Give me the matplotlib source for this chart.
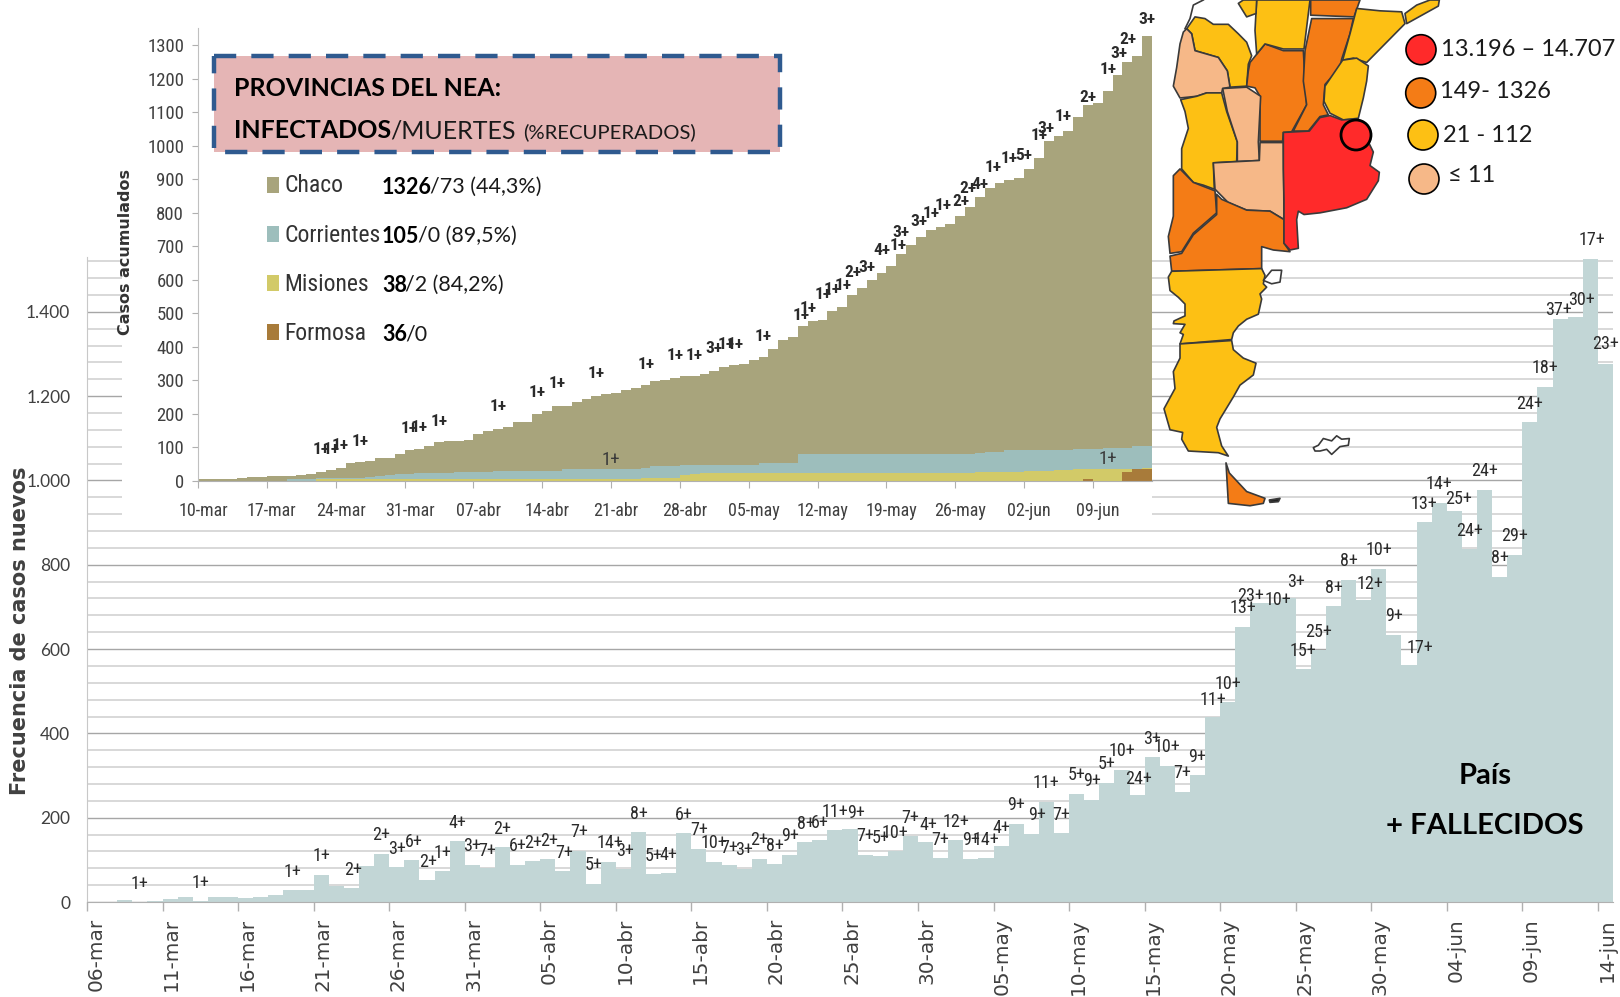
import matplotlib
matplotlib.use('Agg')
import matplotlib.pyplot as plt
import numpy as np
from matplotlib.patches import Circle, Polygon, Rectangle
from matplotlib.ticker import FixedLocator, FuncFormatter, MultipleLocator

# ==========================================
# Data
# ==========================================
# daily new cases, 06-mar to 14-jun
main_cases = [
    0, 0, 4, 1, 2, 6, 11, 2, 11, 11, 9, 13, 17, 28, 28, 65, 39, 33, 85, 115,
    82, 99, 53, 73, 144, 87, 80, 130, 87, 97, 101, 73, 122, 43, 96, 79, 165, 66, 68, 164,
    126, 96, 87, 79, 101, 90, 112, 142, 146, 170, 172, 112, 109, 122, 157, 142, 104, 146, 102, 104,
    132, 186, 161, 238, 164, 257, 243, 283, 313, 253, 343, 323, 261, 302, 438, 474, 652, 709, 709, 720,
    552, 597, 702, 765, 716, 791, 634, 562, 901, 946, 927, 838, 978, 772, 824, 1139, 1221, 1382, 1387, 1525,
    1277,
]
main_tick_labels = [
    '06-mar', '11-mar', '16-mar', '21-mar', '26-mar', '31-mar', '05-abr', '10-abr', '15-abr', '20-abr', '25-abr',
    '30-abr', '05-may', '10-may', '15-may', '20-may', '25-may', '30-may', '04-jun', '09-jun', '14-jun',
]
# deaths labels above the bars: day position, height, text
death_days = [
    3.5, 7.5, 13.6, 15.5, 17.6, 19.5, 20.5, 21.6, 22.6, 23.5, 24.5, 25.5, 26.5, 27.5, 28.5, 29.5, 30.6, 31.6,
    32.6, 33.5, 34.6, 35.6, 36.5, 37.5, 38.5, 39.5, 40.5, 41.5, 42.5, 43.5, 44.5, 45.5, 46.5, 47.6, 48.5, 49.5,
    50.9, 51.5, 52.5, 53.5, 54.5, 55.7, 56.5, 57.5, 58.5, 59.5, 60.5, 61.5, 62.9, 63.5, 64.5, 65.5, 66.5, 67.5,
    68.5, 69.6, 70.5, 71.5, 72.5, 73.5, 74.5, 75.5, 76.5, 77.0, 78.8, 80.0, 80.5, 81.5, 82.5, 83.5, 84.9, 85.5,
    86.5, 88.2, 88.5, 89.5, 90.8, 91.5, 92.5, 93.5, 94.5, 95.5, 96.5, 97.4, 98.9, 99.6, 100.5,
]
death_heights = [
    43, 45, 71, 108, 75, 160, 126, 142, 96, 116, 187, 132, 121, 174, 132, 141, 144, 117,
    166, 87, 140, 121, 209, 109, 111, 207, 170, 141, 129, 123, 146, 133, 156, 186, 188, 214,
    212, 156, 153, 164, 200, 182, 148, 190, 146, 146, 176, 231, 206, 283, 206, 301, 287, 328,
    358, 292, 387, 368, 306, 344, 479, 517, 697, 726, 717, 760, 596, 640, 746, 810, 754, 835,
    679, 602, 945, 991, 957, 881, 1023, 817, 868, 1182, 1266, 1405, 1428, 1571, 1323,
]
death_texts = [
    '1+', '1+', '1+', '1+', '2+', '2+', '3+', '6+', '2+', '1+', '4+', '3+', '7+', '2+', '6+', '2+', '2+', '7+',
    '7+', '5+', '14+', '3+', '8+', '5+', '4+', '6+', '7+', '10+', '7+', '3+', '2+', '8+', '9+', '8+', '6+', '11+',
    '9+', '7+', '5+', '10+', '7+', '4+', '7+', '12+', '9+', '14+', '4+', '9+', '9+', '11+', '7+', '5+', '9+', '5+',
    '10+', '24+', '3+', '10+', '7+', '9+', '11+', '10+', '13+', '23+', '10+', '3+', '15+', '25+', '8+', '8+', '12+', '10+',
    '9+', '17+', '13+', '14+', '25+', '24+', '24+', '8+', '29+', '24+', '18+', '37+', '30+', '17+', '23+',
]

# cumulative cases per province, 10-mar to 14-jun
chaco = [
    4, 4, 4, 4, 7, 11, 11, 14, 14, 14, 18, 21, 26, 33, 38, 52, 55, 60, 67, 67,
    81, 92, 95, 105, 115, 118, 118, 121, 138, 148, 154, 160, 176, 176, 198, 208, 224, 224, 236, 244,
    252, 258, 262, 272, 278, 285, 298, 302, 307, 311, 311, 318, 326, 339, 345, 348, 360, 369, 394, 420,
    429, 463, 478, 481, 507, 517, 554, 575, 598, 620, 642, 677, 703, 728, 748, 756, 766, 789, 817, 847,
    873, 889, 897, 903, 930, 963, 1013, 1029, 1045, 1084, 1122, 1126, 1164, 1211, 1251, 1268, 1326,
]
corrientes = [
    0, 0, 0, 0, 0, 0, 0, 0, 0, 6, 6, 6, 8, 8, 8, 8, 8, 11, 15, 18,
    21, 21, 23, 23, 24, 24, 26, 26, 26, 26, 29, 29, 29, 29, 29, 29, 30, 34, 34, 34,
    34, 36, 36, 36, 36, 38, 44, 44, 44, 48, 48, 48, 48, 48, 48, 48, 48, 54, 54, 54,
    54, 79, 79, 79, 79, 79, 79, 79, 79, 79, 79, 79, 79, 79, 79, 79, 79, 81, 81, 84,
    87, 87, 93, 93, 93, 93, 93, 93, 93, 95, 95, 95, 99, 99, 99, 103, 105,
]
misiones = [
    0, 0, 0, 0, 0, 0, 0, 0, 0, 0, 0, 0, 4, 4, 4, 4, 4, 4, 4, 4,
    4, 4, 4, 4, 4, 4, 4, 4, 4, 4, 4, 4, 4, 4, 4, 4, 4, 4, 4, 4,
    4, 4, 4, 4, 4, 7, 7, 7, 7, 16, 19, 23, 23, 23, 23, 23, 23, 23, 23, 23,
    23, 23, 23, 23, 23, 23, 23, 23, 23, 23, 23, 23, 23, 23, 23, 23, 23, 23, 23, 26,
    26, 26, 26, 26, 29, 29, 29, 32, 32, 35, 35, 35, 35, 35, 35, 36, 38,
]
formosa = [
    0, 0, 0, 0, 0, 0, 0, 0, 0, 0, 0, 0, 0, 0, 0, 0, 0, 0, 0, 0,
    0, 0, 0, 0, 0, 0, 0, 0, 0, 0, 0, 0, 0, 0, 0, 0, 0, 0, 0, 0,
    0, 0, 0, 0, 0, 0, 0, 0, 0, 0, 0, 0, 0, 0, 0, 0, 0, 0, 0, 0,
    0, 0, 0, 0, 0, 0, 0, 0, 0, 0, 0, 0, 0, 0, 0, 0, 0, 0, 0, 0,
    0, 0, 0, 0, 0, 0, 0, 0, 0, 0, 5, 0, 0, 0, 27, 35, 36,
]
nea_tick_labels = [
    '10-mar', '17-mar', '24-mar', '31-mar', '07-abr', '14-abr', '21-abr',
    '28-abr', '05-may', '12-may', '19-may', '26-may', '02-jun', '09-jun',
]
nea_death_days = [
    12.5, 13.5, 14.5, 16.5, 21.5, 22.5, 24.5, 30.5, 34.5, 36.5, 40.5, 45.6, 48.5, 50.5, 52.5, 53.7, 54.6, 57.5,
    61.3, 62.0, 63.6, 64.5, 65.6, 66.6, 68.0, 69.5, 71.2, 71.5, 73.3, 74.5, 75.8, 77.6, 78.3, 79.5, 80.9, 82.5,
    84.0, 85.5, 86.2, 88.0, 90.5, 92.5, 93.6, 94.6, 96.5,
]
nea_death_heights = [
    92, 94, 104, 118, 156, 158, 178, 221, 262, 290, 320, 348, 374, 374, 394, 406, 406, 431,
    492, 515, 557, 570, 582, 622, 635, 686, 703, 741, 773, 798, 820, 832, 872, 884, 935, 961,
    970, 1029, 1050, 1086, 1145, 1227, 1275, 1316, 1377,
]
nea_death_texts = [
    '1+', '1+', '1+', '1+', '1+', '1+', '1+', '1+', '1+', '1+', '1+', '1+', '1+', '1+', '3+', '1+', '1+', '1+',
    '1+', '1+', '1+', '1+', '1+', '2+', '3+', '4+', '1+', '3+', '3+', '1+', '1+', '2+', '2+', '4+', '1+', '1+',
    '5+', '1+', '3+', '1+', '2+', '1+', '3+', '2+', '3+',
]
# the two labels inside the teal band
low_death_days = [42.0, 92.5]
low_death_heights = [61, 65]

province_names = ['Chaco', 'Corrientes', 'Misiones', 'Formosa']
province_bold = ['1326', '105', '38', '36']
province_rest = ['/73 (44,3%)', '/0 (89,5%)', '/2 (84,2%)', '/0']
province_colors = ['#A8A47C', '#9DBEBC', '#D2CA68', '#A87B3A']

legend_texts = ['13.196 – 14.707', '149- 1326', '21 - 112', '≤ 11']

RED, ORANGE, YELLOW, PEACH = '#FF2A2A', '#F47C16', '#FDC014', '#F6B888'
legend_colors = [RED, ORANGE, YELLOW, PEACH]

# rough province outlines, traced in pixels of a 3x crop of the map
map_shapes = [
    (YELLOW, [(110, 85), (135, 50), (165, 55), (190, 72), (235, 72), (265, 100), (290, 125), (305, 165), (295, 190), (290, 255), (240, 258), (232, 210), (205, 170), (135, 150), (125, 100)]),
    (PEACH, [(110, 85), (125, 100), (135, 150), (205, 170), (232, 210), (240, 258), (218, 262), (215, 275), (170, 275), (140, 285), (90, 290), (70, 255), (80, 200), (90, 130), (100, 95)]),
    (ORANGE, [(300, 185), (345, 130), (400, 150), (460, 150), (465, 240), (470, 310), (425, 390), (400, 392), (398, 418), (330, 418), (330, 285), (315, 260), (290, 255), (295, 210)]),
    (YELLOW, [(320, 0), (480, 0), (462, 145), (400, 145), (345, 130), (320, 160), (315, 90)]),
    (YELLOW, [(265, 10), (280, 0), (320, 0), (318, 40), (290, 50)]),
    (ORANGE, [(485, 55), (610, 55), (600, 100), (575, 175), (570, 200), (525, 250), (520, 310), (535, 340), (510, 345), (475, 388), (430, 388), (470, 310), (460, 240), (465, 150)]),
    (ORANGE, [(482, 0), (630, 0), (612, 50), (482, 45)]),
    (YELLOW, [(620, 25), (690, 32), (755, 35), (765, 70), (720, 115), (680, 155), (650, 185), (610, 172), (578, 178), (600, 100)]),
    (YELLOW, [(765, 40), (800, 15), (840, 0), (868, 0), (865, 18), (770, 70)]),
    (YELLOW, [(578, 178), (620, 172), (655, 195), (650, 240), (640, 290), (625, 350), (580, 355), (540, 335), (522, 300), (525, 255)]),
    (YELLOW, [(92, 295), (140, 285), (170, 275), (215, 275), (230, 330), (262, 420), (260, 478), (190, 482), (193, 560), (160, 548), (130, 540), (95, 500), (95, 440), (115, 380), (105, 330)]),
    (PEACH, [(218, 262), (290, 258), (332, 285), (325, 420), (328, 475), (262, 478), (262, 420), (232, 330)]),
    (PEACH, [(190, 482), (328, 475), (330, 422), (400, 422), (402, 650), (360, 625), (290, 622), (235, 600), (215, 580), (195, 560)]),
    (ORANGE, [(90, 500), (130, 540), (195, 565), (200, 630), (130, 690), (95, 745), (60, 750), (55, 700), (70, 640), (70, 520)]),
    (ORANGE, [(200, 575), (215, 590), (290, 622), (360, 625), (402, 650), (402, 720), (420, 745), (370, 740), (335, 730), (335, 795), (65, 803), (60, 758), (95, 750), (130, 695), (200, 635)]),
    (RED, [(400, 392), (478, 388), (510, 348), (540, 342), (575, 355), (625, 352), (645, 400), (670, 450), (660, 490), (688, 510), (685, 535), (650, 590), (590, 615), (510, 630), (462, 635), (445, 625), (440, 650), (445, 735), (420, 740), (402, 720), (402, 590), (400, 500)]),
    (YELLOW, [(65, 803), (335, 795), (345, 815), (340, 840), (350, 850), (330, 870), (335, 885), (325, 930), (290, 945), (265, 965), (250, 985), (245, 1005), (90, 1018), (100, 990), (90, 985), (105, 960), (70, 958), (72, 950), (105, 935), (105, 900), (85, 880), (60, 860), (55, 820)]),
    (YELLOW, [(90, 1018), (245, 1008), (250, 1035), (280, 1060), (318, 1075), (310, 1110), (270, 1140), (250, 1175), (210, 1240), (200, 1265), (215, 1320), (235, 1350), (205, 1340), (115, 1335), (95, 1300), (98, 1280), (60, 1272), (42, 1210), (75, 1150), (70, 1100), (90, 1060)]),
    (ORANGE, [(228, 1370), (238, 1400), (290, 1455), (345, 1475), (340, 1490), (300, 1497), (235, 1490)]),
    ('white', [(490, 1325), (505, 1318), (520, 1298), (545, 1305), (560, 1290), (575, 1300), (598, 1298), (595, 1318), (570, 1322), (545, 1345), (530, 1330), (510, 1335), (495, 1335)]),
    ('white', [(340, 830), (365, 800), (395, 800), (390, 835), (365, 840)]),
    ('#222222', [(358, 1480), (390, 1475), (385, 1485), (360, 1487)]),
]
# border without fill at the very top left of the map
map_border = [(105, 85), (120, 55), (130, 15), (160, 0)]

NARROW = ['Roboto Condensed', 'Archivo Narrow', 'PT Sans Narrow', 'Liberation Sans']
W, H = 1620, 997


def axes_box(left, top, right, bottom):
    # figure fraction box from pixel edges
    return [left / W, (H - bottom) / H, (right - left) / W, (bottom - top) / H]


def thousands(v, pos):
    return f'{int(v):,}'.replace(',', '.')


fig = plt.figure(figsize=(16.2, 9.97), dpi=100)

# --- Main chart: new cases per day ---
ax = fig.add_axes(axes_box(87, 257, 1613, 902), zorder=1)
ax.stairs(main_cases, np.arange(len(main_cases) + 1), fill=True, color='#C2D6D6', linewidth=0, zorder=2)
for d, h, t in zip(death_days, death_heights, death_texts):
    ax.text(d, h, t, ha='center', va='center', fontsize=13, family=NARROW, color='#2B2B2B', zorder=3, clip_on=False)

ax.set_xlim(0, 101)
ax.set_ylim(0, 1530)
ax.set_xticks(np.arange(0, 101, 5))
ax.set_xticklabels([])
ax.set_xticks(np.arange(0, 101, 5) + 0.6, minor=True)
ax.set_xticklabels(main_tick_labels, minor=True, rotation=90, fontsize=14.4, color='#404040')
ax.tick_params(axis='x', which='major', length=6.5, width=1, color='#B0B0B0')
ax.tick_params(axis='x', which='minor', length=0, pad=11.5)

ax.yaxis.set_major_locator(MultipleLocator(200))
ax.yaxis.set_major_formatter(FuncFormatter(thousands))
ax.yaxis.set_minor_locator(FixedLocator(np.arange(0, 1521, 40)))
ax.tick_params(axis='y', which='both', length=0, pad=12, labelsize=12.5, labelcolor='#404040')
for lab in ax.get_yticklabels():
    lab.set_family('Lato')
ax.grid(axis='y', which='minor', color='#D6D6D6', linewidth=1.3)
ax.grid(axis='y', which='major', color='#A6A6A6', linewidth=1.0)
ax.set_axisbelow(True)
for side in ['top', 'right']:
    ax.spines[side].set_visible(False)
ax.spines['left'].set_color('#C8C8C8')
ax.spines['bottom'].set_color('#B0B0B0')

# white sheet under the inset chart hides the grid behind it
sheet = fig.add_axes([0, 0, 1, 1], zorder=2)
sheet.set_xlim(0, W)
sheet.set_ylim(H, 0)
sheet.axis('off')
sheet.add_patch(Rectangle((122, 0), 1152 - 122, 522, color='white', linewidth=0))

# --- Inset chart: accumulated cases in NEA provinces ---
nea = fig.add_axes(axes_box(198, 27.7, 1152, 480.7), zorder=3)
nea.patch.set_alpha(0)
edges = np.arange(len(chaco) + 1)
for vals, col in zip([chaco, corrientes, misiones, formosa], province_colors):
    nea.stairs(vals, edges, fill=True, color=col, linewidth=0)
for d, h, t in zip(nea_death_days, nea_death_heights, nea_death_texts):
    nea.text(d, h, t, ha='center', va='center', fontsize=12.5, family=NARROW, weight='bold', color='#2B2B2B', clip_on=False)
for d, h in zip(low_death_days, low_death_heights):
    nea.text(d, h, '1+', ha='center', va='center', fontsize=13.5, family=NARROW, color='#3A3A3A')

nea.set_xlim(0, 97)
nea.set_ylim(0, 1352)
nea.set_xticks(np.arange(0, 97, 7))
nea.set_xticklabels([])
nea.set_xticks(np.arange(0, 97, 7) + 0.5, minor=True)
nea.set_xticklabels(nea_tick_labels, minor=True, fontsize=13, family=NARROW, color='#404040')
nea.tick_params(axis='x', which='major', length=5, color='#B0B0B0')
nea.tick_params(axis='x', which='minor', length=0, pad=15)
nea.set_yticks(np.arange(0, 1301, 100))
nea.tick_params(axis='y', length=4, color='#B0B0B0', pad=6, labelsize=13.5, labelcolor='#404040')
for lab in nea.get_yticklabels():
    lab.set_family(NARROW)
for side in ['top', 'right']:
    nea.spines[side].set_visible(False)
nea.spines['left'].set_color('#C0C0C0')
nea.spines['bottom'].set_color('#B0B0B0')

# --- Everything placed by pixel: box, province legend, map ---
ov = fig.add_axes([0, 0, 1, 1], zorder=4)
ov.set_xlim(0, W)
ov.set_ylim(H, 0)
ov.axis('off')

ov.text(20.5, 631, 'Frecuencia de casos nuevos', rotation=90, ha='center', va='center',
        fontsize=15, weight='bold', color='#404040')
ov.text(126, 252, 'Casos acumulados', rotation=90, ha='center', va='center',
        fontsize=11.5, weight='bold', color='#333333')

ov.add_patch(Rectangle((214, 56), 566, 96, facecolor='#E5B5B5', edgecolor='#2F5A8F', linewidth=3.2,
                       linestyle=(0, (5, 3.4))))
ov.text(234, 89, 'PROVINCIAS DEL NEA:', family='Lato', weight='bold', fontsize=18, va='center', color='black')
ov.text(234, 131, 'INFECTADOS', family='Lato', weight='bold', fontsize=18, va='center', color='black')
ov.text(390, 131, '/MUERTES', family='Lato', fontsize=18, va='center', color='#1A1A1A')
ov.text(523, 132, '(%RECUPERADOS)', family='Lato', fontsize=14.6, va='center', color='#1A1A1A')

bold_ends = [430, 418, 405, 405]
for i, name in enumerate(province_names):
    y = 185 + i * 49
    ov.add_patch(Rectangle((267, y - 8), 12, 16, color=province_colors[i], linewidth=0))
    ov.text(284.5, y + 1, name, family=NARROW, fontsize=17, va='center', color='#333333')
    ov.text(382, y + 2, province_bold[i], family='Lato', weight='bold', fontsize=15.5, va='center', color='black')
    ov.text(bold_ends[i], y + 2, province_rest[i], family='Lato', fontsize=15.5, va='center', color='#1A1A1A')

for col, pts in map_shapes:
    xy = [(1150 + px / 3, py / 2.96) for px, py in pts]
    ov.add_patch(Polygon(xy, closed=True, facecolor=col, edgecolor='#3A3A3A', linewidth=1.2, joinstyle='round'))
ov.plot([1150 + px / 3 for px, py in map_border], [py / 2.96 for px, py in map_border], color='#3A3A3A', linewidth=1.2)
ov.add_patch(Circle((1356, 135), 15, facecolor=RED, edgecolor='black', linewidth=2))

legend_x = [1421, 1420.7, 1423, 1424]
legend_y = [49.7, 93, 135, 179]
text_x = [1441, 1440, 1443, 1448]
text_y = [50, 91, 136, 176]
for i, t in enumerate(legend_texts):
    ov.add_patch(Circle((legend_x[i], legend_y[i]), 15, facecolor=legend_colors[i], edgecolor='black', linewidth=1.2))
    ov.text(text_x[i], text_y[i], t, family='Lato', fontsize=17, va='center', color='#1A1A1A')

ov.text(1485, 776, 'País', family='Lato', weight='bold', fontsize=21, ha='center', va='center', color='black')
ov.text(1485, 825.5, '+ FALLECIDOS', family='Lato', weight='bold', fontsize=21, ha='center', va='center', color='black')

fig.savefig('out.png', dpi=100)
